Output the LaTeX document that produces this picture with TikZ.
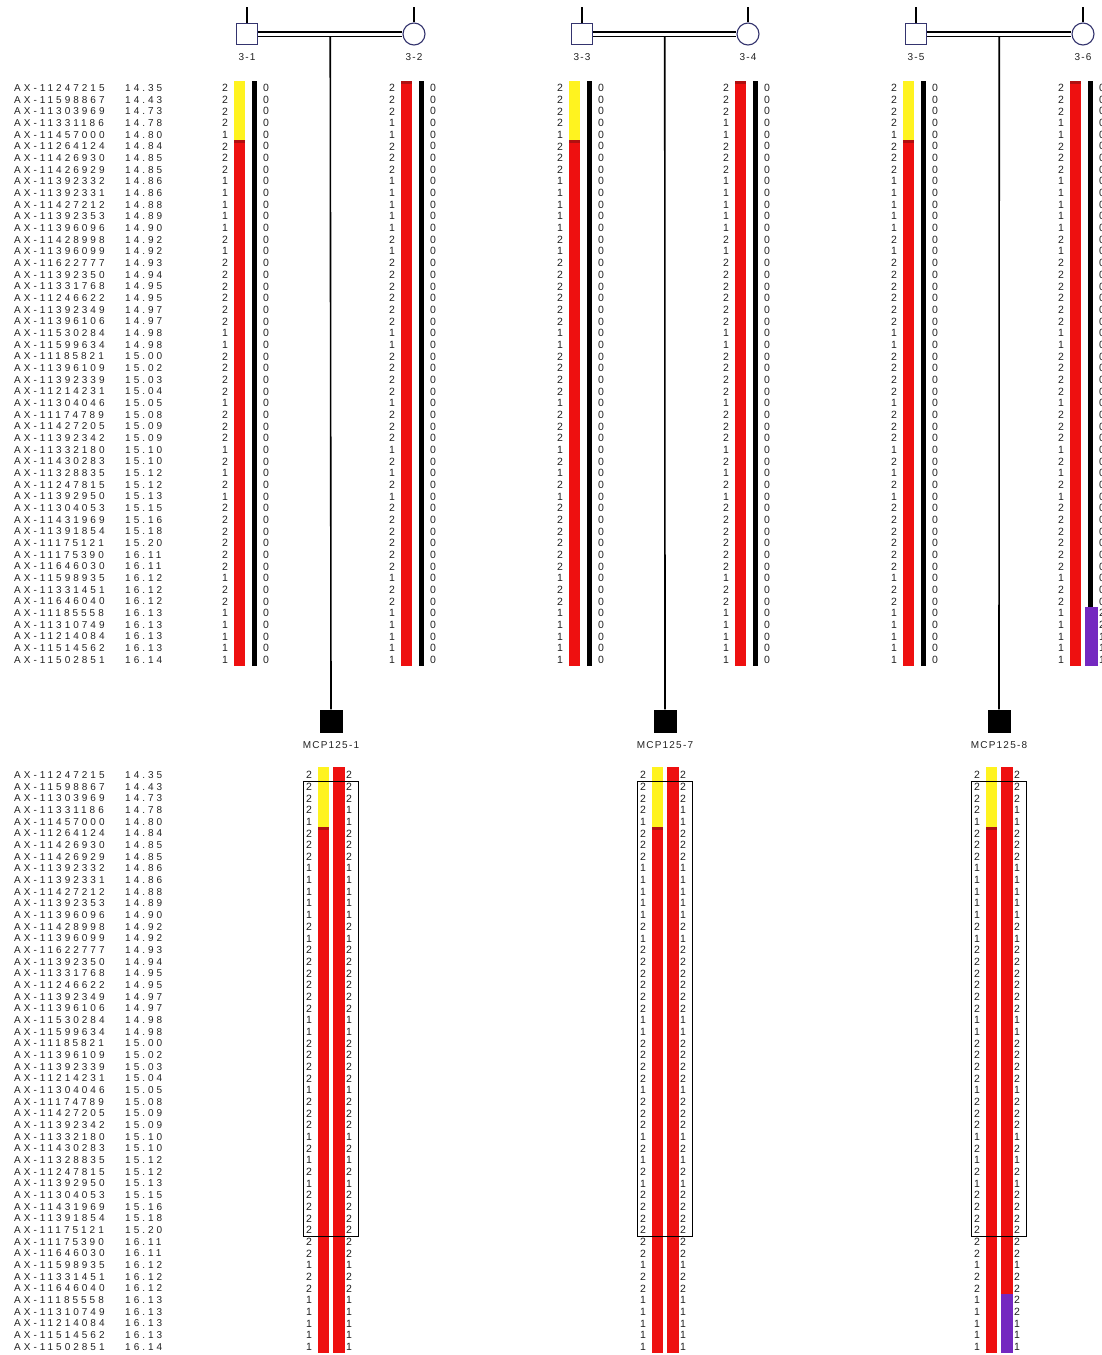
\documentclass[tikz,border=0pt]{standalone}
\usepackage{fontspec}
\setmainfont{Liberation Sans}
\newfontfamily\lsfont[LetterSpace=30]{Liberation Sans}
\newfontfamily\idfont[LetterSpace=12]{Liberation Sans}
\usetikzlibrary{calc}
\definecolor{hapY}{HTML}{FFF31F}
\definecolor{hapR}{HTML}{EE1010}
\definecolor{hapD}{HTML}{B01010}
\definecolor{hapP}{HTML}{7428C0}
\definecolor{txtc}{HTML}{222222}
\definecolor{symc}{HTML}{34346E}
\def\Gmid{1,2,2,2,1,1,1,1,1,2,1,2,2,2,2,2,2,1,1,2,2,2,2,1,2,2,2,1,2,1,2,1,2,2,2,2,2,2,1,2,2}
\edef\GF{2,2,2,2,\Gmid,1,1,1,1,1}
\edef\GM{2,2,2,1,\Gmid,1,1,1,1,1}
\edef\GMp{2,2,2,1,\Gmid,2,2,1,1,1}
\def\Zall{0,0,0,0,0,0,0,0,0,0,0,0,0,0,0,0,0,0,0,0,0,0,0,0,0,0,0,0,0,0,0,0,0,0,0,0,0,0,0,0,0,0,0,0,0,0,0,0,0,0}
\def\Zsix{0,0,0,0,0,0,0,0,0,0,0,0,0,0,0,0,0,0,0,0,0,0,0,0,0,0,0,0,0,0,0,0,0,0,0,0,0,0,0,0,0,0,0,0,0,2,2,1,1,1}
\def\Markers{AX-11247215/14.35,AX-11598867/14.43,AX-11303969/14.73,AX-11331186/14.78,AX-11457000/14.80,AX-11264124/14.84,AX-11426930/14.85,AX-11426929/14.85,AX-11392332/14.86,AX-11392331/14.86,AX-11427212/14.88,AX-11392353/14.89,AX-11396096/14.90,AX-11428998/14.92,AX-11396099/14.92,AX-11622777/14.93,AX-11392350/14.94,AX-11331768/14.95,AX-11246622/14.95,AX-11392349/14.97,AX-11396106/14.97,AX-11530284/14.98,AX-11599634/14.98,AX-11185821/15.00,AX-11396109/15.02,AX-11392339/15.03,AX-11214231/15.04,AX-11304046/15.05,AX-11174789/15.08,AX-11427205/15.09,AX-11392342/15.09,AX-11332180/15.10,AX-11430283/15.10,AX-11328835/15.12,AX-11247815/15.12,AX-11392950/15.13,AX-11304053/15.15,AX-11431969/15.16,AX-11391854/15.18,AX-11175121/15.20,AX-11175390/16.11,AX-11646030/16.11,AX-11598935/16.12,AX-11331451/16.12,AX-11646040/16.12,AX-11185558/16.13,AX-11310749/16.13,AX-11214084/16.13,AX-11514562/16.13,AX-11502851/16.14}
% #1 node prefix, #2 x, #3 first row y, #4 list
\newcommand\digcol[4]{%
  \foreach \g [count=\i] in #4 {\node[dig] (#1\i) at (#2,{#3+(\i-1)*11.67}) {\g};}}
% #1 prefix, #2 first row y
\newcommand\markcol[2]{%
  \foreach \nm/\ps [count=\i] in \Markers {%
    \node[mtxt, anchor=west] (#1n\i) at (14,{#2+(\i-1)*11.67}) {\nm};
    \node[mtxt, anchor=west] (#1p\i) at (125,{#2+(\i-1)*11.67}) {\ps};}}
\begin{document}
\begin{tikzpicture}[x=1pt,y=-1pt,
  mtxt/.style={font=\fontsize{10}{10}\selectfont\lsfont, text=txtc, inner sep=0pt},
  dig/.style={font=\fontsize{10.5}{10}\selectfont, text=txtc, inner sep=0pt},
  idlbl/.style={font=\fontsize{10}{10}\selectfont\idfont, text=txtc, inner sep=0pt},
  male/.style={rectangle, draw=symc, line width=1.1pt, fill=white, minimum size=21pt, inner sep=0pt},
  female/.style={circle, draw=symc, line width=1.1pt, fill=white, minimum size=22pt, inner sep=0pt},
  affected/.style={rectangle, fill=black, minimum size=23pt, inner sep=0pt},
  link/.style={line width=1.6pt, black},
  marriage/.style={double=white, double distance=3pt, line width=1.1pt, draw=black},
  regionbox/.style={draw=black, line width=1pt}]
\useasboundingbox (0,0) rectangle (1102,1355);
\fill[white] (0,0) rectangle (1102,1355);

% ---------- marker lists ----------
\markcol{t}{88}
\markcol{b}{775}

% ---------- pedigree ----------
\foreach \f/\m/\c/\k/\fl/\ml/\cl in {247/414/331/1/3-1/3-2/MCP125-1, 582/748/665/2/3-3/3-4/MCP125-7, 916/1083/999/3/3-5/3-6/MCP125-8}{
  \coordinate (tf\k) at (\f,7);
  \coordinate (tm\k) at (\m,7);
  \node[male] (f\k) at (\f,34) {};
  \node[female] (m\k) at (\m,34) {};
  \draw[link] (tf\k) -- (f\k.north);
  \draw[link] (tm\k) -- (m\k.north);
  \draw[marriage] (f\k.east) -- (m\k.west);
  \coordinate (u\k) at ($(f\k.east)!0.5!(m\k.west)+(0,2)$);
  \node[affected] (c\k) at (\c,721) {};
  \draw[link] (u\k) -- (c\k.north);
  \node[idlbl] (lf\k) at (\f,57) {\fl};
  \node[idlbl] (lm\k) at (\m,57) {\ml};
  \node[idlbl] (lc\k) at (\c,745) {\cl};
}

% ---------- parents' haplotype bars ----------
% fathers (yellow + red)
\foreach \cx/\k in {247/1,582/3,916/5}{
  \fill[hapR] ({\cx-13},81) rectangle ({\cx-2},666);
  \fill[hapY] ({\cx-13},81) rectangle ({\cx-2},139.5);
  \fill[hapD] ({\cx-13},139.5) rectangle ({\cx-2},142.5);
  \fill[black] ({\cx+5},81) rectangle ({\cx+10},666);
  \digcol{g3\k-}{\cx-22}{88}{\GF}
  \digcol{z3\k-}{\cx+19}{88}{\Zall}
}
% mothers (red)
\foreach \cx/\k in {414/2,748/4}{
  \fill[hapR] ({\cx-13},81) rectangle ({\cx-2},666);
  \fill[hapD] ({\cx-13},81) rectangle ({\cx-2},84);
  \fill[black] ({\cx+5},81) rectangle ({\cx+10},666);
  \digcol{g3\k-}{\cx-22}{88}{\GM}
  \digcol{z3\k-}{\cx+19}{88}{\Zall}
}
% 3-6 with purple segment
\fill[hapR] (1070,81) rectangle (1081,666);
\fill[hapD] (1070,81) rectangle (1081,84);
\fill[black] (1088,81) rectangle (1093,607);
\fill[hapP] (1085,607) rectangle (1098,666);
\digcol{g36-}{1061}{88}{\GM}
\digcol{z36-}{1102}{88}{\Zsix}

% ---------- children's haplotype bars ----------
\foreach \cx/\k in {331/1,665/7}{
  \fill[hapR] ({\cx-13},767) rectangle ({\cx-2},1353);
  \fill[hapY] ({\cx-13},767) rectangle ({\cx-2},826.5);
  \fill[hapD] ({\cx-13},826.5) rectangle ({\cx-2},829.5);
  \fill[hapR] ({\cx+2},767) rectangle ({\cx+14},1353);
  \digcol{cl\k-}{\cx-22}{775}{\GF}
  \digcol{cr\k-}{\cx+18}{775}{\GM}
  \draw[regionbox] ({\cx-28},781) rectangle ({\cx+27},1236);
}
\fill[hapR] (986,767) rectangle (997,1353);
\fill[hapY] (986,767) rectangle (997,826.5);
\fill[hapD] (986,826.5) rectangle (997,829.5);
\fill[hapR] (1001,767) rectangle (1013,1294);
\fill[hapP] (1001,1294) rectangle (1013,1353);
\digcol{cl8-}{977}{775}{\GF}
\digcol{cr8-}{1017}{775}{\GMp}
\draw[regionbox] (971,781) rectangle (1026,1236);
\end{tikzpicture}
\end{document}
